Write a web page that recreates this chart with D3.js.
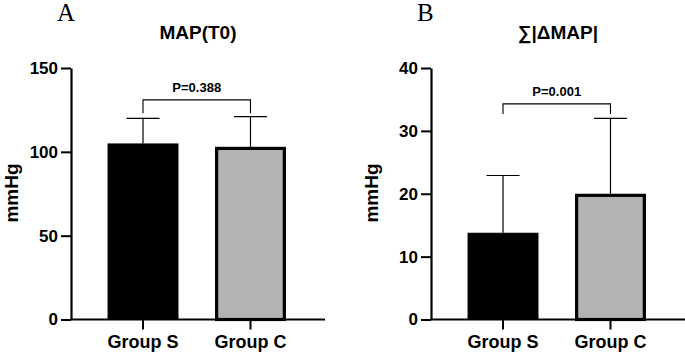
<!DOCTYPE html>
<html><head><meta charset="utf-8">
<script src="https://cdn.jsdelivr.net/npm/d3@7"></script>
<style>body{margin:0;background:#fff}svg{display:block}</style>
</head><body>
<script>
const groups = ["Group S", "Group C"];
const panelLetters = ["A", "B"];
const titles = ["MAP(T0)", "\u2211|\u0394MAP|"];
const yLabel = "mmHg";
const mapMeans = [105, 103];
const mapSD = [15, 18];
const sumMeans = [13.8, 20];
const sumSD = [9.1, 12];
const pValues = ["P=0.388", "P=0.001"];
const mapTicks = [0, 50, 100, 150];
const sumTicks = [0, 10, 20, 30, 40];
const yMax = [150, 40];
const bracketTop = [131, 34.3];
const bracketLeg = [123, 32.7];
const fills = ["#000000", "#b3b3b3"];

const svg = d3.select("body").append("svg").attr("width", 685).attr("height", 354);
const FONT = "Liberation Sans, Arial, sans-serif";

const panels = [
  {x0: 71, means: mapMeans, sd: mapSD, ticks: mapTicks},
  {x0: 431, means: sumMeans, sd: sumSD, ticks: sumTicks}
];

panels.forEach((p, i) => {
  const y = d3.scaleLinear().domain([0, yMax[i]]).range([319.5, 68]);
  const x = d3.scaleBand().domain(groups).range([p.x0, p.x0 + 251.5]).paddingInner(0.34).paddingOuter(0.34);
  const g = svg.append("g");

  // bars
  groups.forEach((grp, j) => {
    const bx = x(grp), bw = x.bandwidth();
    const sw = j === 0 ? 1 : 3.2;
    g.append("rect")
      .attr("x", bx + sw / 2).attr("y", y(p.means[j]) + sw / 2)
      .attr("width", bw - sw).attr("height", y(0) - y(p.means[j]) - sw / 2)
      .attr("fill", fills[j]).attr("stroke", "#000").attr("stroke-width", sw);
    const cx = bx + bw / 2;
    g.append("line").attr("x1", cx).attr("x2", cx)
      .attr("y1", y(p.means[j])).attr("y2", y(p.means[j] + p.sd[j]))
      .attr("stroke", "#000").attr("stroke-width", 1.2);
    g.append("line").attr("x1", cx - 16.5).attr("x2", cx + 16.5)
      .attr("y1", y(p.means[j] + p.sd[j])).attr("y2", y(p.means[j] + p.sd[j]))
      .attr("stroke", "#000").attr("stroke-width", 1.2);
  });

  // bracket
  const c0 = x(groups[0]) + x.bandwidth() / 2, c1 = x(groups[1]) + x.bandwidth() / 2;
  g.append("path")
    .attr("d", `M${c0},${y(bracketLeg[i])}V${y(bracketTop[i])}H${c1}V${y(bracketLeg[i])}`)
    .attr("fill", "none").attr("stroke", "#000").attr("stroke-width", 1.1);
  g.append("text").attr("x", (c0 + c1) / 2).attr("y", y(bracketTop[i]) - 8)
    .attr("text-anchor", "middle").attr("font-family", FONT).attr("font-weight", "bold")
    .attr("font-size", 13).text(pValues[i]);

  // y axis
  const ya = d3.axisLeft(y).tickValues(p.ticks).tickSize(10).tickPadding(3).tickSizeOuter(0);
  const yg = g.append("g").attr("transform", `translate(${p.x0},0)`).call(ya);
  yg.select(".domain").attr("stroke-width", 2.2);
  yg.selectAll(".tick line").attr("stroke-width", 2);
  yg.selectAll("text").attr("font-family", FONT).attr("font-weight", "bold").attr("font-size", 17).attr("fill", "#000");

  // x axis
  const xa = d3.axisBottom(x).tickSize(10).tickPadding(6).tickSizeOuter(0);
  const xg = g.append("g").attr("transform", `translate(0,${y(0)})`).call(xa);
  xg.select(".domain").attr("d", `M${p.x0},0H${p.x0 + 254}`).attr("stroke-width", 2.2);
  xg.selectAll(".tick line").attr("stroke-width", 2);
  xg.selectAll("text").attr("font-family", FONT).attr("font-weight", "bold").attr("font-size", 18).attr("fill", "#000");

  // y label
  g.append("text").attr("transform", `translate(${p.x0 - 53},193) rotate(-90)`)
    .attr("text-anchor", "middle").attr("font-family", FONT).attr("font-weight", "bold")
    .attr("font-size", 19).text(yLabel);

  // title
  g.append("text").attr("x", p.x0 + 127).attr("y", 39)
    .attr("text-anchor", "middle").attr("font-family", FONT).attr("font-weight", "bold")
    .attr("font-size", 19).text(titles[i]);

  // panel letter
  g.append("text").attr("x", p.x0 - 14).attr("y", 21)
    .attr("font-family", "Liberation Serif, Times New Roman, serif")
    .attr("font-size", 25).text(panelLetters[i]);
});
</script>
</body></html>
